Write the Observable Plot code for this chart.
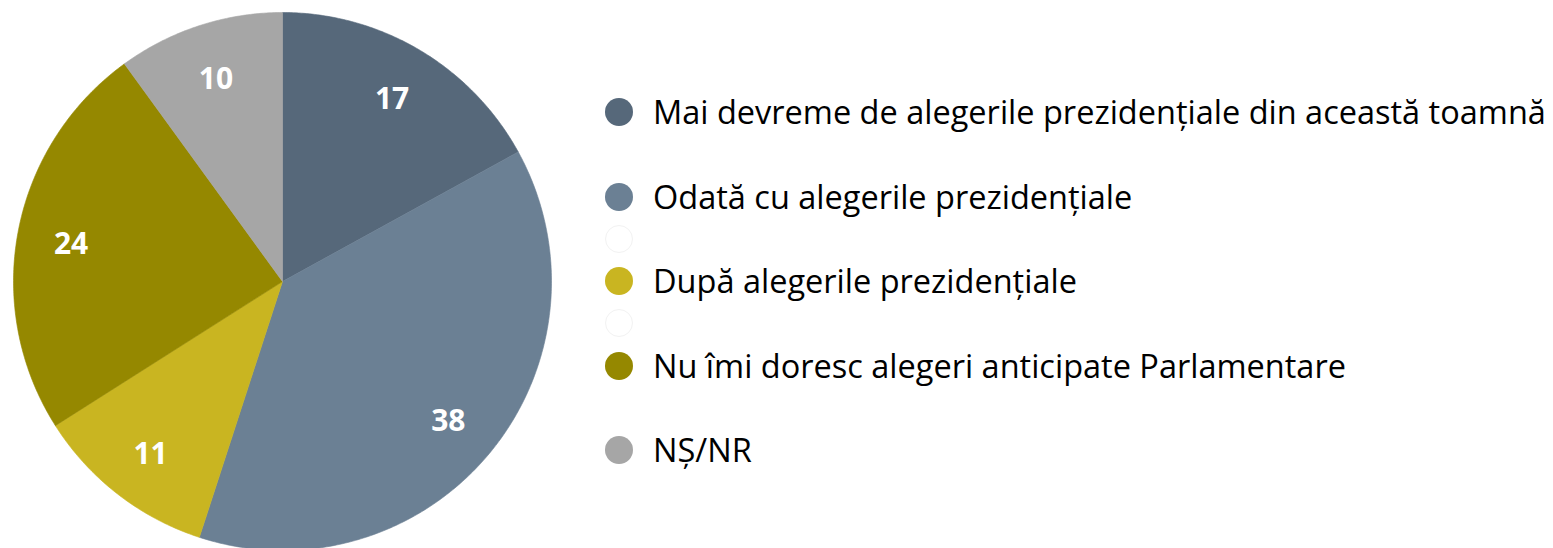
<!DOCTYPE html>
<html>
<head>
<meta charset="utf-8">
<script src="https://cdn.jsdelivr.net/npm/d3@7"></script>
<script src="https://cdn.jsdelivr.net/npm/@observablehq/plot@0.6"></script>
<style>
  html, body { margin: 0; padding: 0; background: #fff; overflow: hidden; }
  #wrap { position: relative; width: 1553px; height: 548px; }
  #legend { position: absolute; left: 0; top: 0; font-family: "Open Sans", sans-serif; }
  .row { position: absolute; left: 605px; height: 30px; display: flex; align-items: center; white-space: nowrap; }
  .sw { width: 28px; height: 28px; border-radius: 50%; box-sizing: border-box; flex: none; }
  .lab { margin-left: 20px; font-size: 32.5px; color: #000; letter-spacing: 0; line-height: 30px; }
</style>
</head>
<body>
<div id="wrap"><div id="chart"></div><div id="legend"></div></div>
<script>
const categories = [
  "Mai devreme de alegerile prezidențiale din această toamnă",
  "Odată cu alegerile prezidențiale",
  "După alegerile prezidențiale",
  "Nu îmi doresc alegeri anticipate Parlamentare",
  "NȘ/NR"
];
const values = [17, 38, 11, 24, 10];
const colors = ["#56687a", "#6b8094", "#c9b521", "#958800", "#a6a6a6"];

// legend slots (null = spacer, "blank" = empty white circle)
const legendSlots = [0, null, 1, "blank", 2, "blank", 3, null, 4];

const data = categories.map((c, i) => ({category: c, value: values[i]}));
const arcs = d3.pie().sort(null).value(d => d.value).startAngle(0).endAngle(2 * Math.PI)(data);

const polyPoints = [];
arcs.forEach(a => {
  const cat = a.data.category;
  polyPoints.push({category: cat, x: 0, y: 0});
  const steps = Math.max(2, Math.ceil((a.endAngle - a.startAngle) / 0.01));
  for (let k = 0; k <= steps; k++) {
    const t = a.startAngle + (a.endAngle - a.startAngle) * k / steps;
    polyPoints.push({category: cat, x: Math.sin(t), y: Math.cos(t)});
  }
  polyPoints.push({category: cat, x: 0, y: 0});
});

const labels = arcs.map(a => {
  const m = (a.startAngle + a.endAngle) / 2;
  return {x: 0.8 * Math.sin(m), y: 0.8 * Math.cos(m), text: String(a.data.value)};
});

const cx = 282, cy = 281, R = 269;
const plot = Plot.plot({
  width: 1553,
  height: 548,
  margin: 0,
  x: {domain: [-1, 1], range: [cx - R, cx + R], axis: null},
  y: {domain: [-1, 1], range: [cy + R, cy - R], axis: null},
  color: {domain: categories, range: colors},
  style: {overflow: "visible", background: "#fff"},
  marks: [
    Plot.line(polyPoints, {x: "x", y: "y", z: "category", fill: "category", stroke: "category", strokeWidth: 0.6, curve: "linear"}),
    Plot.text(labels, {x: "x", y: "y", dy: 3, text: "text", fill: "white", fontSize: 30, fontWeight: "bold", fontFamily: "Open Sans, sans-serif"})
  ]
});
document.getElementById("chart").appendChild(plot);

const legend = document.getElementById("legend");
const top0 = 112, step = 42.25;
legendSlots.forEach((s, k) => {
  if (s === null) return;
  const row = document.createElement("div");
  row.className = "row";
  row.style.top = (top0 + step * k - 15) + "px";
  const sw = document.createElement("div");
  sw.className = "sw";
  if (s === "blank") {
    sw.style.background = "#fff";
    sw.style.border = "1px solid #f2f2f2";
  } else {
    sw.style.background = colors[s];
  }
  row.appendChild(sw);
  if (s !== "blank") {
    const lab = document.createElement("span");
    lab.className = "lab";
    lab.textContent = categories[s];
    row.appendChild(lab);
  }
  legend.appendChild(row);
});
</script>
</body>
</html>
